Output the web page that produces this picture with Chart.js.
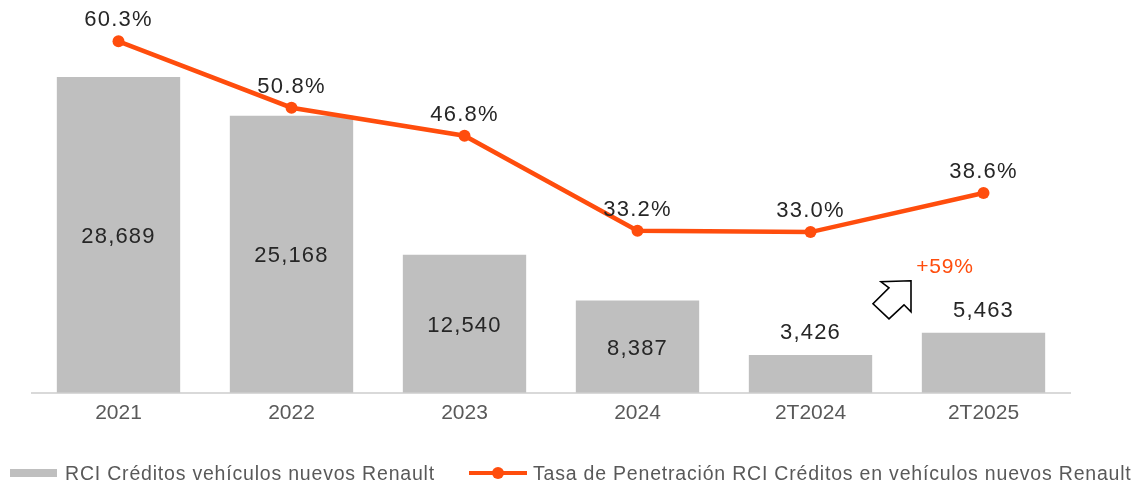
<!DOCTYPE html>
<html>
<head>
<meta charset="utf-8">
<script src="https://cdn.jsdelivr.net/npm/chart.js@4"></script>
<style>
html,body{margin:0;padding:0;background:#fff;}
#wrap{position:relative;width:1135px;height:486px;overflow:hidden;}
#c{display:block;}
#legend{position:absolute;left:10px;top:461px;height:24px;font-family:"Liberation Sans",Arial,sans-serif;font-size:19.5px;letter-spacing:0.8px;color:#595959;white-space:nowrap;display:flex;align-items:center;}
.sw-bar{display:inline-block;width:47px;height:8px;background:#bfbfbf;margin-right:8px;}
.sw-line{position:relative;display:inline-block;width:58px;height:12px;margin-left:34px;margin-right:6px;}
.sw-line:before{content:"";position:absolute;left:0;right:0;top:4px;height:4px;background:#ff4d0d;}
.sw-line:after{content:"";position:absolute;left:23px;top:0;width:12px;height:12px;border-radius:50%;background:#ff4d0d;}
</style>
</head>
<body>
<div id="wrap">
<canvas id="c" width="1135" height="486"></canvas>
<div id="legend"><span class="sw-bar"></span><span>RCI Créditos vehículos nuevos Renault</span><span class="sw-line"></span><span>Tasa de Penetración RCI Créditos en vehículos nuevos Renault</span></div>
</div>
<script>
const categories = ['2021', '2022', '2023', '2024', '2T2024', '2T2025'];
const creditos = [28689, 25168, 12540, 8387, 3426, 5463];
const tasa = [60.3, 50.8, 46.8, 33.2, 33.0, 38.6];
const seriesNames = ['RCI Créditos vehículos nuevos Renault', 'Tasa de Penetración RCI Créditos en vehículos nuevos Renault'];
const growthLabel = '+59%';

const ORANGE = '#ff4d0d';
const FONT = '"Liberation Sans", Arial, sans-serif';

const labelPlugin = {
  id: 'valueLabels',
  afterDatasetsDraw(chart) {
    const ctx = chart.ctx;
    ctx.save();
    ctx.font = '22px ' + FONT;
    try { ctx.letterSpacing = '1.2px'; } catch (e) {}
    ctx.fillStyle = '#262626';
    ctx.textAlign = 'center';
    ctx.textBaseline = 'middle';
    const barMeta = chart.getDatasetMeta(1);
    barMeta.data.forEach((bar, i) => {
      const h = bar.base - bar.y;
      const txt = creditos[i].toLocaleString('en-US');
      const y = h > 80 ? (bar.y + bar.base) / 2 + 2 : bar.y - 22;
      ctx.fillText(txt, bar.x, y);
    });
    const lineMeta = chart.getDatasetMeta(0);
    lineMeta.data.forEach((pt, i) => {
      ctx.fillText(tasa[i].toFixed(1) + '%', pt.x, pt.y - 21);
    });
    // growth annotation between the last two categories
    const xs = chart.scales.x;
    const mid = (xs.getPixelForValue(4) + xs.getPixelForValue(5)) / 2;
    const yb = chart.scales.yBar;
    const yRef = yb.getPixelForValue(0);
    ctx.fillStyle = ORANGE;
    ctx.font = '21px ' + FONT;
    try { ctx.letterSpacing = '0.8px'; } catch (e) {}
    ctx.fillText(growthLabel, mid + 48, yRef - 126);
    // outlined arrow
    const ox = mid - 24, oy = yRef - 110;
    const pts = [[38, -2], [8, -1], [16, 5], [0, 21], [16, 36], [31, 22], [38, 29]];
    ctx.beginPath();
    pts.forEach((p, k) => { if (k === 0) ctx.moveTo(ox + p[0], oy + p[1]); else ctx.lineTo(ox + p[0], oy + p[1]); });
    ctx.closePath();
    ctx.fillStyle = '#ffffff';
    ctx.fill();
    ctx.lineWidth = 1.6;
    ctx.strokeStyle = '#000000';
    ctx.lineJoin = 'miter';
    ctx.stroke();
    ctx.restore();
  }
};

new Chart(document.getElementById('c'), {
  data: {
    labels: categories,
    datasets: [
      {
        type: 'line',
        label: seriesNames[1],
        data: tasa,
        yAxisID: 'yLine',
        borderColor: ORANGE,
        backgroundColor: ORANGE,
        borderWidth: 4.5,
        pointRadius: 6,
        pointHoverRadius: 6,
        pointBackgroundColor: ORANGE,
        pointBorderWidth: 0,
        tension: 0,
        order: 0
      },
      {
        type: 'bar',
        label: seriesNames[0],
        data: creditos,
        yAxisID: 'yBar',
        backgroundColor: '#bfbfbf',
        borderWidth: 0,
        categoryPercentage: 1,
        barPercentage: 0.713,
        order: 1
      }
    ]
  },
  options: {
    responsive: false,
    animation: false,
    layout: { padding: { left: 32, right: 65, top: 12, bottom: 52 } },
    plugins: {
      legend: { display: false },
      tooltip: { enabled: false }
    },
    scales: {
      x: {
        grid: { display: false, drawTicks: false },
        border: { display: true, color: '#d9d9d9', width: 2 },
        ticks: { color: '#595959', font: { family: FONT, size: 21 }, padding: 8 }
      },
      yBar: {
        display: false,
        min: 0,
        max: 34600
      },
      yLine: {
        display: false,
        min: 10,
        max: 64.5
      }
    }
  },
  plugins: [labelPlugin]
});
</script>
</body>
</html>
